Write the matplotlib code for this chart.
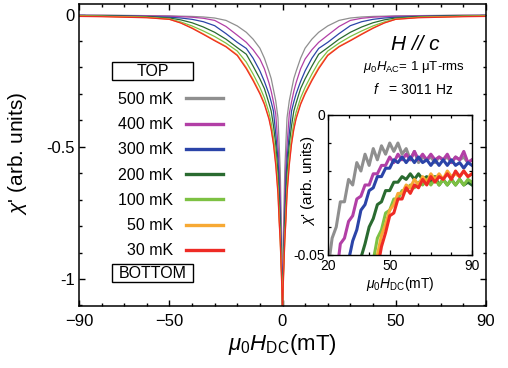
import matplotlib
matplotlib.use("Agg")
import matplotlib.pyplot as plt
from matplotlib.patches import Rectangle
from matplotlib.lines import Line2D
from matplotlib.ticker import MultipleLocator, FixedLocator

plt.rcParams['font.family'] = ['Liberation Sans', 'DejaVu Sans']
plt.rcParams['mathtext.fontset'] = 'custom'
plt.rcParams['mathtext.rm'] = 'Liberation Sans'
plt.rcParams['mathtext.it'] = 'Liberation Sans:italic'
plt.rcParams['mathtext.bf'] = 'Liberation Sans:bold'

# ---------------- data ----------------
temps = ["500 mK", "400 mK", "300 mK", "200 mK", "100 mK", "50 mK", "30 mK"]
colors = ["#8f8f8f", "#b23fa6", "#2b44a8", "#2a6b30", "#7dc143", "#f7a934", "#ee2b25"]

# main panel: |H| grid (mT), curves symmetric in H
h_main = [0, 0.25, 0.5, 1, 1.5, 2, 3, 4, 5, 6, 8, 10, 13, 16, 20, 25, 30, 35, 40, 45, 50, 60, 70, 80, 90]
chi_500 = [-1.12, -0.93, -0.79, -0.59, -0.485, -0.39, -0.326, -0.284, -0.242, -0.215, -0.165, -0.127, -0.093, -0.067, -0.043, -0.022, -0.013, -0.009, -0.007, -0.006, -0.005, -0.004, -0.003, -0.002, -0.002]
chi_400 = [-1.12, -0.98, -0.87, -0.69, -0.57, -0.495, -0.375, -0.33, -0.29, -0.258, -0.205, -0.168, -0.133, -0.105, -0.078, -0.045, -0.022, -0.014, -0.010, -0.008, -0.006, -0.005, -0.004, -0.003, -0.003]
chi_300 = [-1.12, -1.01, -0.92, -0.765, -0.63, -0.55, -0.45, -0.365, -0.33, -0.30, -0.253, -0.213, -0.165, -0.128, -0.105, -0.072, -0.042, -0.027, -0.018, -0.013, -0.010, -0.007, -0.005, -0.004, -0.003]
chi_200 = [-1.12, -1.02, -0.94, -0.80, -0.70, -0.60, -0.49, -0.42, -0.365, -0.335, -0.28, -0.243, -0.195, -0.15, -0.125, -0.093, -0.067, -0.047, -0.031, -0.020, -0.013, -0.008, -0.006, -0.005, -0.004]
chi_100 = [-1.12, -1.03, -0.96, -0.84, -0.75, -0.65, -0.53, -0.465, -0.41, -0.37, -0.315, -0.275, -0.225, -0.18, -0.138, -0.108, -0.083, -0.062, -0.043, -0.028, -0.016, -0.010, -0.008, -0.006, -0.005]
chi_50 = [-1.12, -1.045, -0.975, -0.855, -0.77, -0.67, -0.56, -0.485, -0.43, -0.39, -0.335, -0.295, -0.245, -0.20, -0.152, -0.12, -0.097, -0.073, -0.05, -0.031, -0.018, -0.011, -0.009, -0.007, -0.006]
chi_30 = [-1.12, -1.05, -0.98, -0.86, -0.78, -0.68, -0.57, -0.49, -0.435, -0.395, -0.34, -0.30, -0.25, -0.205, -0.155, -0.122, -0.099, -0.075, -0.052, -0.032, -0.018, -0.012, -0.010, -0.008, -0.007]
main_curves = [chi_500, chi_400, chi_300, chi_200, chi_100, chi_50, chi_30]

# inset: H from 20 to 90 mT
h_inset = list(range(20, 91, 2))
ins_500 = [-0.055, -0.044, -0.040, -0.031, -0.031, -0.023, -0.025, -0.017, -0.020, -0.014, -0.018, -0.012, -0.016, -0.011, -0.014, -0.010, -0.013, -0.010, -0.014, -0.012, -0.016, -0.013, -0.017, -0.015, -0.016, -0.015, -0.017, -0.015, -0.016, -0.015, -0.017, -0.015, -0.016, -0.015, -0.017, -0.016]
ins_400 = [-0.080, -0.070, -0.058, -0.046, -0.044, -0.038, -0.036, -0.030, -0.029, -0.025, -0.025, -0.021, -0.021, -0.018, -0.018, -0.015, -0.017, -0.014, -0.016, -0.014, -0.016, -0.013, -0.016, -0.014, -0.016, -0.014, -0.016, -0.015, -0.016, -0.014, -0.017, -0.015, -0.016, -0.013, -0.017, -0.016]
ins_300 = [-0.095, -0.088, -0.080, -0.071, -0.062, -0.052, -0.045, -0.041, -0.034, -0.032, -0.027, -0.026, -0.022, -0.022, -0.019, -0.019, -0.016, -0.017, -0.015, -0.017, -0.015, -0.017, -0.015, -0.017, -0.016, -0.018, -0.016, -0.018, -0.016, -0.018, -0.016, -0.018, -0.017, -0.019, -0.017, -0.018]
ins_200 = [-0.110, -0.100, -0.092, -0.085, -0.078, -0.071, -0.064, -0.058, -0.051, -0.046, -0.040, -0.037, -0.032, -0.031, -0.027, -0.027, -0.024, -0.024, -0.022, -0.023, -0.021, -0.023, -0.021, -0.023, -0.022, -0.024, -0.022, -0.025, -0.023, -0.025, -0.023, -0.025, -0.023, -0.025, -0.024, -0.025]
ins_100 = [-0.120, -0.110, -0.100, -0.095, -0.088, -0.082, -0.076, -0.070, -0.064, -0.060, -0.057, -0.052, -0.044, -0.041, -0.035, -0.034, -0.030, -0.030, -0.027, -0.027, -0.025, -0.026, -0.024, -0.025, -0.023, -0.025, -0.023, -0.025, -0.023, -0.025, -0.023, -0.025, -0.023, -0.025, -0.023, -0.024]
ins_50 = [-0.130, -0.120, -0.110, -0.100, -0.094, -0.088, -0.082, -0.076, -0.070, -0.065, -0.061, -0.056, -0.050, -0.043, -0.039, -0.034, -0.032, -0.028, -0.028, -0.025, -0.026, -0.023, -0.025, -0.022, -0.024, -0.021, -0.023, -0.021, -0.023, -0.020, -0.022, -0.021, -0.022, -0.020, -0.022, -0.021]
ins_30 = [-0.140, -0.130, -0.120, -0.110, -0.100, -0.093, -0.086, -0.080, -0.074, -0.068, -0.064, -0.059, -0.055, -0.047, -0.042, -0.036, -0.035, -0.030, -0.030, -0.026, -0.028, -0.025, -0.026, -0.023, -0.025, -0.022, -0.024, -0.022, -0.023, -0.021, -0.023, -0.020, -0.022, -0.020, -0.022, -0.021]
inset_curves = [ins_500, ins_400, ins_300, ins_200, ins_100, ins_50, ins_30]

main_xticks = [-90, -50, 0, 50, 90]
main_yticks = [-1, -0.5, 0]
main_yticklabels = ["-1", "-0.5", "0"]
inset_xticks = [20, 50, 90]
inset_yticks = [-0.05, 0]
inset_yticklabels = ["-0.05", "0"]

# ---------------- figure ----------------
W, H = 508, 368
fig = plt.figure(figsize=(W / 100, H / 100), dpi=100)

def fx(px):
    return px / W

def fy(py):
    return 1 - py / H

ax_l, ax_r, ax_t, ax_b = 79, 486, 4, 306
ax = fig.add_axes([fx(ax_l), fy(ax_b), fx(ax_r) - fx(ax_l), fy(ax_t) - fy(ax_b)])

for yv, c, lab in zip(main_curves, colors, temps):
    xs = [-h for h in h_main[::-1]] + h_main[1:]
    ys = yv[::-1] + yv[1:]
    ax.plot(xs, ys, color=c, lw=0.9, label=lab)

ax.set_xlim(-90, 90)
ax.set_ylim(-1.102, 0.04)
ax.xaxis.set_major_locator(FixedLocator(main_xticks))
ax.xaxis.set_minor_locator(MultipleLocator(10))
ax.yaxis.set_major_locator(FixedLocator(main_yticks))
ax.set_yticklabels(main_yticklabels)
ax.yaxis.set_minor_locator(MultipleLocator(0.1))
ax.tick_params(which='both', direction='in', top=True, right=True, width=1.0, labelsize=12)
ax.tick_params(which='major', length=4.5)
ax.tick_params(which='minor', length=2.5)
ax.tick_params(axis='x', pad=6)
ax.tick_params(axis='y', pad=3)
for s in ax.spines.values():
    s.set_linewidth(1.1)

ax.set_xlabel(r'$\mathit{μ}_0\mathit{H}_{\mathrm{DC}}$(mT)', fontsize=16, labelpad=2)
ax.set_ylabel(r"$\mathit{χ}$' (arb. units)", fontsize=15)
ax.yaxis.set_label_coords((29 - ax_l) / (ax_r - ax_l), (ax_b - 153) / (ax_b - ax_t))

# legend
handles = [Line2D([], [], color=c, lw=2.4) for c in colors]
fig.legend(handles, temps, loc='upper right', bbox_to_anchor=(fx(223), fy(92)),
           frameon=False, markerfirst=False, fontsize=11.5, handlelength=2.3,
           handletextpad=0.85, labelspacing=0.64, borderpad=0, borderaxespad=0)

for label, pyc in [("TOP", 71), ("BOTTOM", 273)]:
    fig.patches.append(Rectangle((fx(112), fy(pyc + 9)), fx(193) - fx(112), fy(pyc - 9) - fy(pyc + 9),
                                 transform=fig.transFigure, fill=False, edgecolor='black', lw=1.0))
    fig.text(fx(152.5), fy(pyc), label, ha='center', va='center', fontsize=11.5)

fig.text(fx(415), fy(45), "H // c", ha='center', va='center', fontsize=15, style='italic')
fig.text(fx(363), fy(67), r'$\mathit{μ}_0\mathit{H}_{\mathrm{AC}}$= 1 μT-rms', ha='left', va='center', fontsize=9.5)
fig.text(fx(373), fy(90), r'$\mathit{f}$   = 3011 Hz', ha='left', va='center', fontsize=10)

# inset
in_l, in_r, in_t, in_b = 328, 472, 115, 255
axi = fig.add_axes([fx(in_l), fy(in_b), fx(in_r) - fx(in_l), fy(in_t) - fy(in_b)])
for yv, c in zip(inset_curves, colors):
    axi.plot(h_inset, yv, color=c, lw=2.2)
axi.set_xlim(20, 90)
axi.set_ylim(-0.05, 0)
axi.xaxis.set_major_locator(FixedLocator(inset_xticks))
axi.xaxis.set_minor_locator(MultipleLocator(10))
axi.yaxis.set_major_locator(FixedLocator(inset_yticks))
axi.set_yticklabels(inset_yticklabels)
axi.yaxis.set_minor_locator(MultipleLocator(0.01))
axi.tick_params(which='both', direction='in', top=True, right=True, width=0.9, labelsize=10)
axi.tick_params(which='major', length=3.5)
axi.tick_params(which='minor', length=2)
axi.tick_params(axis='x', pad=3)
axi.tick_params(axis='y', pad=2)
for s in axi.spines.values():
    s.set_linewidth(1.0)
axi.set_xlabel(r'$\mathit{μ}_0\mathit{H}_{\mathrm{DC}}$(mT)', fontsize=10, labelpad=1)
axi.set_ylabel(r"$\mathit{χ}$' (arb. units)", fontsize=11)
axi.yaxis.set_label_coords((317 - in_l) / (in_r - in_l), (in_b - 181) / (in_b - in_t))

fig.savefig("out.png", dpi=100)
